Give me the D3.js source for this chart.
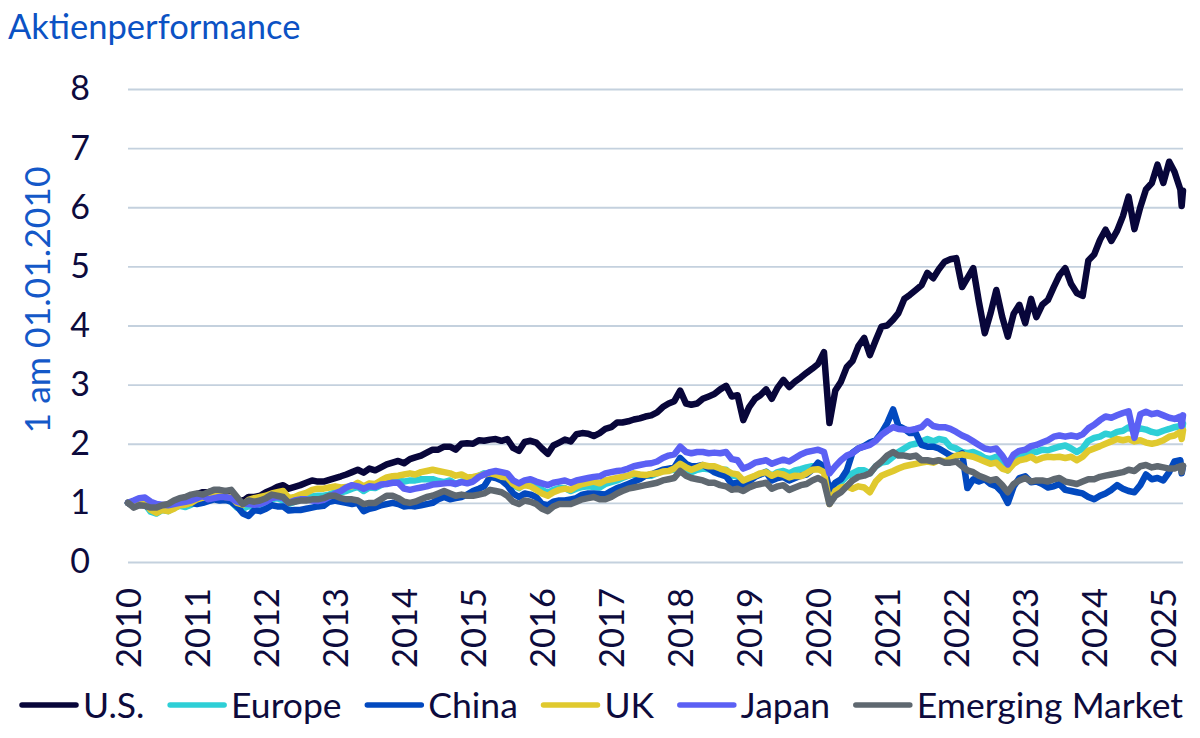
<!DOCTYPE html>
<html>
<head>
<meta charset="utf-8">
<script src="https://cdn.jsdelivr.net/npm/d3@7"></script>
<style>
  body { margin: 0; background: #fff; }
  svg { display: block; }
  text { font-family: Lato, "Noto Sans", sans-serif; }
</style>
</head>
<body>
<div id="chart"></div>
<script>
var width = 1200;
var height = 738;
var plot = {left: 128, right: 1183, top: 89, bottom: 562};

// month points, plus two extra days at the end
var dates = [
  "2010-01","2010-02","2010-03","2010-04","2010-05","2010-06","2010-07","2010-08","2010-09","2010-10","2010-11","2010-12",
  "2011-01","2011-02","2011-03","2011-04","2011-05","2011-06","2011-07","2011-08","2011-09","2011-10","2011-11","2011-12",
  "2012-01","2012-02","2012-03","2012-04","2012-05","2012-06","2012-07","2012-08","2012-09","2012-10","2012-11","2012-12",
  "2013-01","2013-02","2013-03","2013-04","2013-05","2013-06","2013-07","2013-08","2013-09","2013-10","2013-11","2013-12",
  "2014-01","2014-02","2014-03","2014-04","2014-05","2014-06","2014-07","2014-08","2014-09","2014-10","2014-11","2014-12",
  "2015-01","2015-02","2015-03","2015-04","2015-05","2015-06","2015-07","2015-08","2015-09","2015-10","2015-11","2015-12",
  "2016-01","2016-02","2016-03","2016-04","2016-05","2016-06","2016-07","2016-08","2016-09","2016-10","2016-11","2016-12",
  "2017-01","2017-02","2017-03","2017-04","2017-05","2017-06","2017-07","2017-08","2017-09","2017-10","2017-11","2017-12",
  "2018-01","2018-02","2018-03","2018-04","2018-05","2018-06","2018-07","2018-08","2018-09","2018-10","2018-11","2018-12",
  "2019-01","2019-02","2019-03","2019-04","2019-05","2019-06","2019-07","2019-08","2019-09","2019-10","2019-11","2019-12",
  "2020-01","2020-02","2020-03","2020-04","2020-05","2020-06","2020-07","2020-08","2020-09","2020-10","2020-11","2020-12",
  "2021-01","2021-02","2021-03","2021-04","2021-05","2021-06","2021-07","2021-08","2021-09","2021-10","2021-11","2021-12",
  "2022-01","2022-02","2022-03","2022-04","2022-05","2022-06","2022-07","2022-08","2022-09","2022-10","2022-11","2022-12",
  "2023-01","2023-02","2023-03","2023-04","2023-05","2023-06","2023-07","2023-08","2023-09","2023-10","2023-11","2023-12",
  "2024-01","2024-02","2024-03","2024-04","2024-05","2024-06","2024-07","2024-08","2024-09","2024-10","2024-11","2024-12",
  "2025-01","2025-02","2025-03","2025-04","2025-04-08","2025-04-15"
];

var us = [
  1.00,0.97,1.02,1.05,0.97,0.93,0.96,0.95,1.02,1.06,1.07,1.12,
  1.15,1.18,1.18,1.20,1.19,1.16,1.17,1.06,1.03,1.10,1.10,1.12,
  1.18,1.22,1.27,1.30,1.24,1.27,1.30,1.34,1.38,1.36,1.36,1.39,
  1.42,1.45,1.48,1.52,1.56,1.51,1.58,1.55,1.60,1.65,1.68,1.71,
  1.67,1.74,1.77,1.80,1.85,1.90,1.90,1.95,1.95,1.90,2.00,2.01,
  2.00,2.06,2.05,2.07,2.08,2.05,2.08,1.93,1.88,2.03,2.05,2.02,
  1.92,1.83,1.97,2.02,2.07,2.04,2.16,2.18,2.17,2.13,2.18,2.25,
  2.28,2.36,2.36,2.38,2.41,2.43,2.46,2.48,2.53,2.62,2.68,2.72,
  2.90,2.68,2.66,2.68,2.76,2.80,2.84,2.92,2.98,2.80,2.82,2.40,
  2.62,2.76,2.82,2.92,2.76,2.95,3.08,2.96,3.05,3.12,3.20,3.27,
  3.35,3.55,2.35,2.90,3.05,3.30,3.40,3.65,3.79,3.50,3.75,3.98,
  4.00,4.10,4.21,4.45,4.52,4.60,4.68,4.89,4.80,4.95,5.08,5.12,
  5.14,4.65,4.80,4.97,4.40,3.87,4.20,4.60,4.15,3.81,4.20,4.35,
  4.04,4.45,4.14,4.35,4.43,4.65,4.85,4.97,4.70,4.55,4.50,5.10,
  5.20,5.45,5.62,5.43,5.60,5.85,6.18,5.63,6.00,6.30,6.41,6.72,
  6.41,6.77,6.60,6.30,6.02,6.28
];

var europe = [
  1.00,0.95,1.00,0.98,0.85,0.82,0.88,0.86,0.92,0.95,0.93,0.97,
  1.02,1.05,1.04,1.10,1.08,1.06,1.02,0.92,0.90,0.95,0.93,0.96,
  1.02,1.06,1.08,1.04,0.98,1.02,1.06,1.09,1.11,1.12,1.12,1.14,
  1.18,1.18,1.20,1.24,1.27,1.20,1.26,1.25,1.30,1.36,1.37,1.37,
  1.36,1.38,1.38,1.40,1.40,1.40,1.37,1.35,1.38,1.32,1.36,1.37,
  1.40,1.46,1.50,1.48,1.47,1.40,1.44,1.30,1.25,1.34,1.35,1.30,
  1.22,1.17,1.22,1.25,1.25,1.20,1.24,1.27,1.28,1.27,1.26,1.32,
  1.35,1.38,1.42,1.46,1.48,1.47,1.46,1.46,1.50,1.54,1.55,1.56,
  1.62,1.55,1.52,1.56,1.58,1.57,1.58,1.56,1.56,1.46,1.45,1.36,
  1.40,1.45,1.48,1.53,1.46,1.52,1.54,1.50,1.55,1.57,1.60,1.62,
  1.62,1.60,1.15,1.30,1.35,1.45,1.50,1.55,1.55,1.50,1.62,1.68,
  1.70,1.78,1.86,1.92,1.98,2.00,2.04,2.08,2.04,2.08,2.06,1.95,
  1.92,1.86,1.84,1.86,1.82,1.76,1.74,1.78,1.66,1.55,1.70,1.80,
  1.80,1.88,1.86,1.90,1.89,1.92,1.95,1.97,1.92,1.86,1.92,2.05,
  2.10,2.12,2.17,2.15,2.20,2.22,2.28,2.22,2.26,2.24,2.20,2.18,
  2.22,2.25,2.28,2.30,2.18,2.34
];

var china = [
  1.00,0.94,0.97,0.96,0.90,0.88,0.92,0.93,0.98,1.02,0.98,1.00,
  0.98,1.00,1.03,1.06,1.04,1.05,1.02,0.94,0.82,0.78,0.88,0.86,
  0.90,0.96,0.94,0.94,0.87,0.88,0.88,0.90,0.92,0.94,0.95,1.02,
  1.04,1.02,1.00,0.98,1.00,0.86,0.90,0.92,0.96,0.98,1.00,0.98,
  0.94,0.95,0.94,0.96,0.98,1.00,1.06,1.10,1.06,1.08,1.10,1.14,
  1.20,1.24,1.28,1.44,1.42,1.38,1.30,1.16,1.10,1.16,1.14,1.10,
  0.98,0.96,1.02,1.04,1.04,1.06,1.08,1.14,1.16,1.16,1.15,1.14,
  1.20,1.25,1.28,1.32,1.36,1.40,1.46,1.48,1.52,1.56,1.58,1.60,
  1.76,1.66,1.62,1.62,1.64,1.58,1.52,1.48,1.45,1.32,1.34,1.30,
  1.36,1.44,1.48,1.52,1.38,1.42,1.44,1.38,1.42,1.46,1.48,1.56,
  1.68,1.62,1.22,1.34,1.40,1.55,1.85,1.92,1.96,2.02,2.06,2.18,
  2.35,2.58,2.30,2.25,2.18,2.18,1.98,1.95,1.95,1.92,1.86,1.80,
  1.78,1.84,1.25,1.40,1.36,1.40,1.32,1.28,1.18,1.00,1.28,1.42,
  1.45,1.35,1.36,1.32,1.26,1.28,1.32,1.22,1.20,1.18,1.16,1.10,
  1.06,1.12,1.16,1.22,1.30,1.24,1.20,1.18,1.30,1.48,1.40,1.42,
  1.38,1.52,1.70,1.72,1.50,1.62
];

var uk = [
  1.00,0.96,1.02,1.00,0.88,0.83,0.88,0.86,0.90,0.96,0.97,1.00,
  1.06,1.09,1.08,1.14,1.12,1.10,1.10,1.00,0.97,1.05,1.08,1.10,
  1.12,1.16,1.18,1.20,1.08,1.10,1.14,1.17,1.22,1.24,1.24,1.26,
  1.28,1.26,1.27,1.28,1.34,1.28,1.33,1.32,1.38,1.43,1.45,1.46,
  1.48,1.50,1.48,1.52,1.54,1.56,1.54,1.52,1.50,1.46,1.48,1.43,
  1.44,1.46,1.48,1.50,1.48,1.44,1.43,1.32,1.26,1.30,1.28,1.22,
  1.16,1.12,1.18,1.22,1.24,1.22,1.28,1.32,1.34,1.36,1.33,1.38,
  1.40,1.42,1.44,1.46,1.50,1.48,1.47,1.49,1.50,1.53,1.54,1.58,
  1.66,1.60,1.56,1.60,1.64,1.62,1.62,1.58,1.55,1.50,1.48,1.38,
  1.42,1.46,1.50,1.52,1.46,1.50,1.48,1.43,1.46,1.45,1.50,1.56,
  1.57,1.52,0.98,1.20,1.26,1.28,1.24,1.28,1.26,1.18,1.36,1.46,
  1.50,1.54,1.58,1.62,1.64,1.66,1.68,1.70,1.68,1.72,1.70,1.74,
  1.80,1.82,1.80,1.78,1.74,1.70,1.66,1.68,1.58,1.55,1.66,1.72,
  1.74,1.78,1.72,1.76,1.78,1.77,1.78,1.76,1.78,1.72,1.78,1.88,
  1.92,1.96,2.00,2.04,2.08,2.06,2.08,2.04,2.06,2.02,2.00,2.02,
  2.06,2.12,2.14,2.20,2.08,2.23
];

var japan = [
  1.00,1.04,1.08,1.09,1.02,0.98,0.97,0.96,0.98,1.00,1.02,1.04,
  1.08,1.12,1.06,1.08,1.10,1.10,1.08,1.02,0.99,0.98,0.97,0.98,
  1.02,1.08,1.10,1.08,1.00,1.04,1.06,1.06,1.04,1.03,1.05,1.10,
  1.16,1.20,1.26,1.30,1.28,1.24,1.28,1.27,1.31,1.32,1.34,1.34,
  1.24,1.22,1.24,1.26,1.28,1.31,1.32,1.33,1.34,1.32,1.35,1.33,
  1.36,1.44,1.48,1.52,1.54,1.52,1.50,1.38,1.33,1.38,1.40,1.36,
  1.33,1.30,1.34,1.36,1.38,1.34,1.38,1.40,1.42,1.44,1.45,1.50,
  1.52,1.54,1.55,1.58,1.62,1.64,1.66,1.67,1.70,1.76,1.80,1.82,
  1.95,1.86,1.84,1.86,1.86,1.84,1.85,1.84,1.86,1.74,1.72,1.58,
  1.62,1.68,1.70,1.72,1.66,1.70,1.73,1.70,1.76,1.82,1.86,1.88,
  1.90,1.86,1.50,1.62,1.72,1.80,1.84,1.92,1.95,1.98,2.05,2.15,
  2.22,2.28,2.25,2.24,2.23,2.25,2.28,2.38,2.30,2.28,2.28,2.25,
  2.20,2.14,2.10,2.04,1.98,1.92,1.90,1.92,1.80,1.65,1.82,1.88,
  1.90,1.96,1.98,2.02,2.06,2.12,2.14,2.12,2.14,2.12,2.16,2.26,
  2.32,2.40,2.46,2.44,2.48,2.52,2.55,2.10,2.50,2.54,2.50,2.52,
  2.48,2.44,2.42,2.46,2.30,2.48
];

var emerging = [
  1.00,0.92,0.96,0.95,0.92,0.92,0.96,0.98,1.04,1.08,1.10,1.14,
  1.16,1.14,1.18,1.22,1.22,1.20,1.22,1.10,0.98,1.04,1.02,1.04,
  1.08,1.14,1.12,1.10,1.00,1.02,1.04,1.04,1.06,1.06,1.08,1.12,
  1.12,1.08,1.06,1.06,1.04,0.98,1.00,1.00,1.06,1.12,1.12,1.08,
  1.02,1.00,1.02,1.06,1.10,1.12,1.16,1.20,1.16,1.12,1.14,1.12,
  1.12,1.14,1.16,1.22,1.20,1.18,1.12,1.02,0.98,1.04,1.02,0.98,
  0.90,0.86,0.94,0.98,0.98,0.98,1.02,1.06,1.08,1.10,1.06,1.06,
  1.10,1.16,1.20,1.24,1.26,1.28,1.30,1.32,1.34,1.38,1.40,1.42,
  1.54,1.46,1.42,1.40,1.38,1.34,1.34,1.30,1.28,1.22,1.24,1.20,
  1.26,1.30,1.32,1.34,1.24,1.28,1.30,1.22,1.26,1.30,1.32,1.38,
  1.42,1.36,0.98,1.12,1.18,1.28,1.38,1.44,1.46,1.50,1.62,1.70,
  1.80,1.86,1.80,1.80,1.78,1.80,1.72,1.72,1.70,1.72,1.68,1.68,
  1.70,1.62,1.55,1.52,1.46,1.42,1.38,1.40,1.30,1.18,1.32,1.38,
  1.42,1.36,1.38,1.38,1.36,1.40,1.42,1.36,1.34,1.32,1.36,1.40,
  1.40,1.44,1.46,1.48,1.50,1.52,1.56,1.54,1.62,1.64,1.60,1.62,
  1.60,1.58,1.58,1.62,1.52,1.63
];

var seriesNames = ["U.S.", "Europe", "China", "UK", "Japan", "Emerging Market"];
var seriesValues = [us, europe, china, uk, japan, emerging];
var colors = ["#08063a", "#2ecfd6", "#0249bf", "#e0c92e", "#5b60f4", "#5f6870"];

var yearTicks = [2010,2011,2012,2013,2014,2015,2016,2017,2018,2019,2020,2021,2022,2023,2024,2025];
var yTicks = [0,1,2,3,4,5,6,7,8];

var parseMonth = d3.timeParse("%Y-%m");
var parseDay = d3.timeParse("%Y-%m-%d");
function parse(s) { return parseDay(s) || parseMonth(s); }

var svg = d3.select("#chart")
  .append("svg")
    .attr("width", width)
    .attr("height", height);

var x = d3.scaleTime()
  .domain([parse("2010-01-01"), parse("2025-04-15")])
  .range([plot.left, plot.right]);

var y = d3.scaleLinear()
  .domain([0, 8])
  .range([plot.bottom, plot.top]);

// title + y label
svg.append("text")
  .attr("x", 8)
  .attr("y", 39)
  .attr("fill", "#0b52c4")
  .style("font-size", "34.5px")
  .text("Aktienperformance");

svg.append("text")
  .attr("transform", "translate(50,300) rotate(-90)")
  .attr("text-anchor", "middle")
  .attr("fill", "#1458c8")
  .style("font-size", "35.5px")
  .text("1 am 01.01.2010");

// y axis with grid
var yAxis = svg.append("g")
  .attr("transform", "translate(" + plot.left + ",0)")
  .call(d3.axisLeft(y).tickValues(yTicks).tickSize(-(plot.right - plot.left)).tickPadding(38).tickFormat(d3.format("d")));
yAxis.select(".domain").remove();
yAxis.selectAll("line").attr("stroke", "#c4d1de").attr("stroke-width", 1.8);
yAxis.selectAll("text")
  .attr("fill", "#0d0b3d")
  .style("font-size", "34px")
  .style("font-family", "Lato, 'Noto Sans', sans-serif");

// x axis, rotated year labels
var xAxis = svg.append("g")
  .attr("transform", "translate(0," + plot.bottom + ")")
  .call(d3.axisBottom(x)
    .tickValues(yearTicks.map(function(yr) { return new Date(yr, 0, 1); }))
    .tickSize(0)
    .tickFormat(d3.timeFormat("%Y")));
xAxis.select(".domain").remove();
xAxis.selectAll("text")
  .attr("transform", "rotate(-90)")
  .attr("text-anchor", "end")
  .attr("x", -26)
  .attr("y", 0)
  .attr("dy", "0.36em")
  .attr("fill", "#0d0b3d")
  .style("font-size", "34.5px")
  .style("font-family", "Lato, 'Noto Sans', sans-serif");

// lines
var line = d3.line()
  .x(function(d) { return x(d.date); })
  .y(function(d) { return y(d.value); });

seriesValues.forEach(function(vals, i) {
  var pts = vals.map(function(v, j) { return {date: parse(dates[j]), value: v}; });
  svg.append("path")
    .datum(pts)
    .attr("fill", "none")
    .attr("stroke", colors[i])
    .attr("stroke-width", 6.5)
    .attr("stroke-linejoin", "round")
    .attr("stroke-linecap", "round")
    .attr("d", line);
});

// legend: items spread from x=22 to the right edge of the plot
var legend = svg.append("g").attr("transform", "translate(0,705)");
var items = seriesNames.map(function(name, i) {
  var g = legend.append("g");
  g.append("line")
    .attr("x1", 0).attr("x2", 54)
    .attr("y1", 0).attr("y2", 0)
    .attr("stroke", colors[i])
    .attr("stroke-width", 5.5)
    .attr("stroke-linecap", "round");
  var t = g.append("text")
    .attr("x", 61)
    .attr("dy", "0.36em")
    .attr("fill", "#0d0b3d")
    .style("font-size", "35.5px")
    .text(name);
  return {g: g, w: 61 + t.node().getComputedTextLength()};
});
var total = d3.sum(items, function(d) { return d.w; });
var gap = (plot.right - 22 - total) / (items.length - 1);
var lx = 22;
items.forEach(function(d) {
  d.g.attr("transform", "translate(" + lx + ",0)");
  lx += d.w + gap;
});
</script>
</body>
</html>
